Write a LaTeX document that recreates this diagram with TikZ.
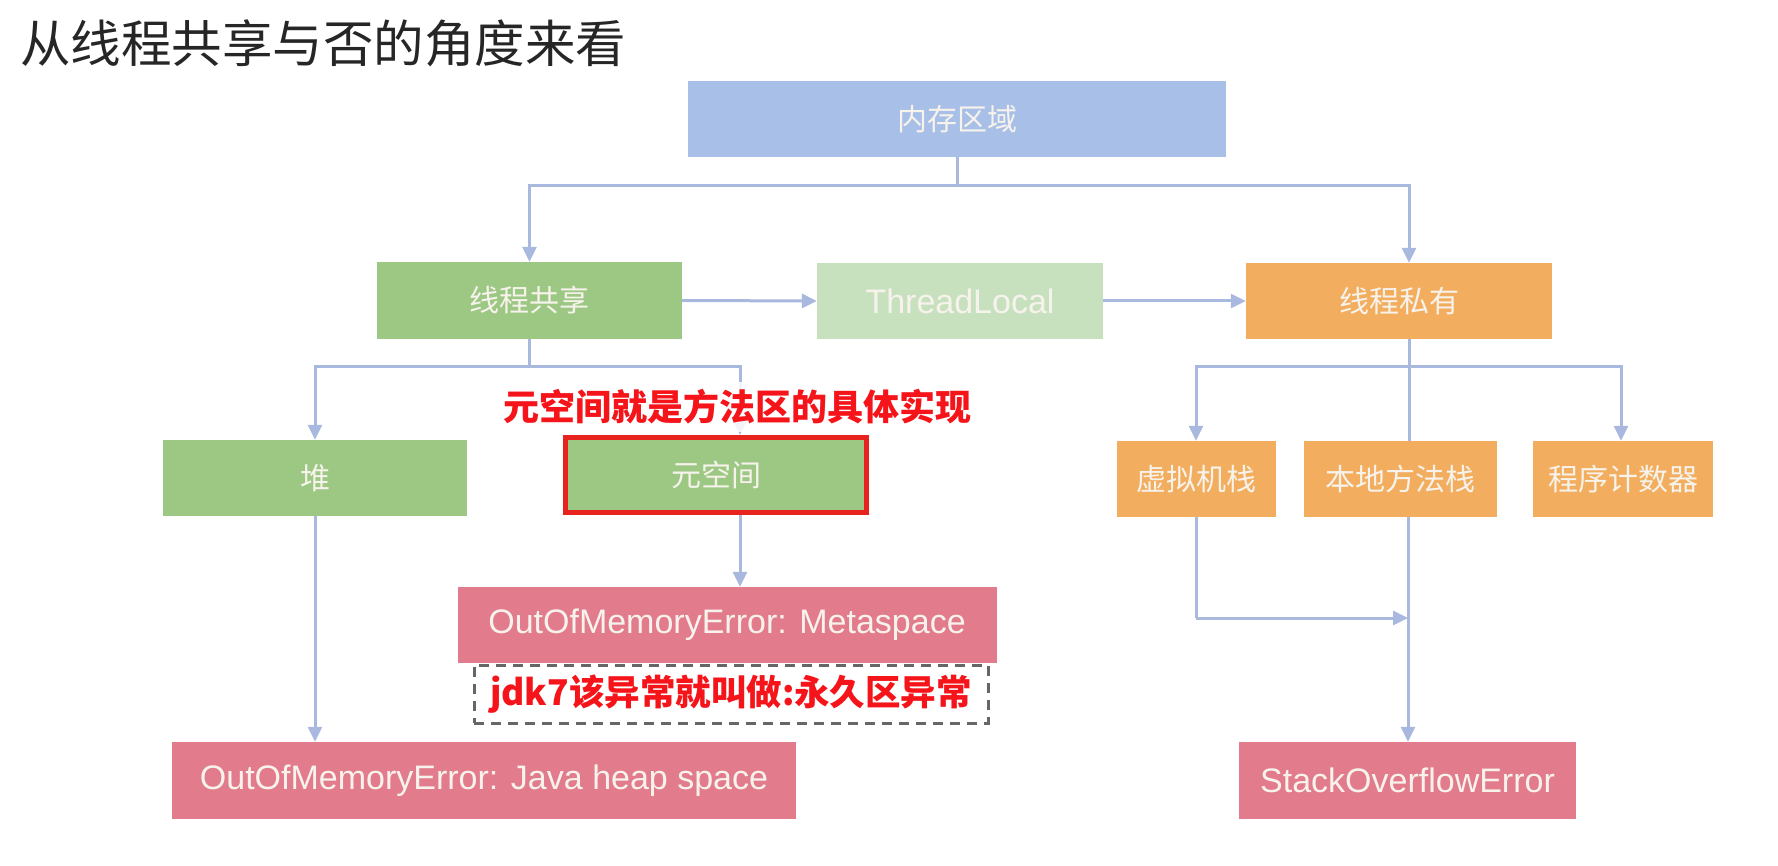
\documentclass[tikz,border=0pt]{standalone}
\usepackage{fontspec}
\setmainfont{Liberation Sans}
\newfontfamily\cjk{Noto Sans CJK SC}
\usetikzlibrary{arrows.meta}
\definecolor{cblue}{HTML}{A8BFE7}
\definecolor{cgreen}{HTML}{9CC884}
\definecolor{cpale}{HTML}{C7E1BF}
\definecolor{corange}{HTML}{F2AE5E}
\definecolor{cpink}{HTML}{E27B8B}
\definecolor{cline}{HTML}{A8B8DE}
\definecolor{ctext}{HTML}{F7F3EC}
\definecolor{cred}{HTML}{F5141A}
\definecolor{credbox}{HTML}{E8231E}
\definecolor{cdash}{HTML}{666666}
\definecolor{ctitle}{HTML}{262626}
\tikzset{
  box/.style={rectangle, inner sep=0pt, minimum height=76pt, text=ctext},
  zh/.style={font=\cjk\fontsize{30}{30}\selectfont},
  en/.style={font=\fontsize{34}{34}\selectfont},
  conn/.style={draw=cline, line width=3pt},
  arr/.style={conn, -{Triangle[length=15pt,width=14pt]}},
}
\begin{document}
\begin{tikzpicture}[x=1pt,y=-1pt]
\useasboundingbox[fill=white] (0,0) rectangle (1778,866);

% title
\node[anchor=west, inner sep=0pt, text=ctitle, font=\cjk\fontsize{50.5}{50.5}\selectfont] (title) at (20,43) {从线程共享与否的角度来看};

% level 1
\node[box, zh, fill=cblue, minimum width=538pt] (mem) at (957,119) {内存区域};

% level 2
\node[box, zh, fill=cgreen, minimum width=305pt, minimum height=77pt] (share) at (529.5,300.5) {线程共享};
\node[box, en, fill=cpale, minimum width=286pt] (tl) at (960,301) {ThreadLocal};
\node[box, zh, fill=corange, minimum width=306pt] (priv) at (1399,301) {线程私有};

% level 3
\node[box, zh, fill=cgreen, minimum width=304pt] (heap) at (315,478) {堆};
\node[box, zh, fill=cgreen, draw=credbox, line width=5pt, minimum width=301pt, minimum height=75pt] (meta) at (716,475) {元空间};
\node[box, zh, fill=corange, minimum width=159pt] (vms) at (1196,479) {虚拟机栈};
\node[box, zh, fill=corange, minimum width=193pt] (nms) at (1400,479) {本地方法栈};
\node[box, zh, fill=corange, minimum width=180pt] (pc) at (1623,479) {程序计数器};

% level 4
\node[box, en, fill=cpink, minimum width=539pt] (oomm) at (727,625) {OutOfMemoryError: Metaspace};
\node[box, en, fill=cpink, minimum width=624pt, minimum height=77pt] (oomh) at (484,780.5) {OutOfMemoryError: Java heap space};
\node[box, en, fill=cpink, minimum width=337pt, minimum height=77pt] (soe) at (1407.5,780.5) {StackOverflowError};

% connectors
\coordinate (j1) at (957,186);
\draw[conn] (mem.south) -- (j1);
\draw[arr] (j1) -| (share.north);
\draw[arr] (j1) -| ([xshift=10pt]priv.north);
\draw[arr] (share.east) -- (tl.west);
\draw[arr] (tl.east) -- (priv.west);

\coordinate (j2) at (529.5,367);
\draw[conn] (share.south) -- (j2);
\draw[arr] (j2) -| (heap.north);
\draw[arr] (j2) -| ([xshift=24pt]meta.north);

\coordinate (j3) at (1409,367);
\draw[conn] ([xshift=10pt]priv.south) -- ([xshift=9pt]nms.north);
\draw[arr] (j3) -| (vms.north);
\draw[arr] (j3) -| ([xshift=-2pt]pc.north);
\draw[arr] ([xshift=8pt]nms.south) -- ([xshift=0.5pt]soe.north);
\coordinate (j4) at (1196,618);
\draw[conn] (vms.south) -- (j4);
\draw[arr] (j4) -- (1408,618) coordinate (j5);

\draw[arr] (heap.south) -- (heap.south |- oomh.north);
\draw[arr] ([xshift=24pt]meta.south) -- ([xshift=24pt]meta.south |- oomm.north);

% annotations
\node[fill=white, fill opacity=0.85, text opacity=1, text=cred, inner sep=0pt, minimum width=515pt, minimum height=50pt, font=\cjk\bfseries\fontsize{36}{36}\selectfont] (note1) at (737,407) {元空间就是方法区的具体实现};
\node[draw=cdash, line width=3pt, dash pattern=on 10pt off 7pt, fill=white, text=cred, inner sep=0pt, minimum width=514pt, minimum height=58pt, font=\cjk\bfseries\fontsize{35.5}{35.5}\selectfont] (note2) at (731,694) {jdk7该异常就叫做:永久区异常};
\end{tikzpicture}
\end{document}
